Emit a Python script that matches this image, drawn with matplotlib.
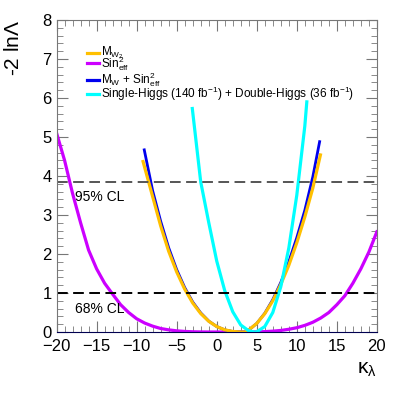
# Imports
import numpy as np
import matplotlib
matplotlib.use('Agg')
import matplotlib.pyplot as plt
from matplotlib.ticker import MultipleLocator

# Likelihood scans
kl_mw = [-9.2, -8.0, -7.0, -6.0, -5.0, -4.0, -3.0, -2.0, -1.0, 0.0, 1.0, 2.0, 3.0, 3.5,
         4.0, 5.0, 6.0, 7.0, 8.0, 9.0, 10.0, 11.0, 12.0, 12.95]
nll_mw = [4.37, 3.47, 2.72, 2.07, 1.54, 1.10, 0.745, 0.474, 0.276, 0.14, 0.056, 0.014, 0.001, 0.0,
          0.053, 0.22, 0.47, 0.80, 1.22, 1.71, 2.29, 2.95, 3.69, 4.54]

kl_sin = [-20, -19, -18, -17, -16, -15, -14, -13, -12, -11, -10, -9, -8, -7, -6, -5, -4, -3, -2, -1,
          0, 1, 2, 3, 4, 5, 6, 7, 8, 9, 10, 11, 12, 13, 14, 15, 16, 17, 18, 19, 20]
nll_sin = [5.1, 4.4, 3.55, 2.8, 2.1, 1.62, 1.25, 0.97, 0.70, 0.50, 0.34, 0.23, 0.15, 0.09, 0.055, 0.03,
           0.015, 0.006, 0.002, 0.0, 0.0, 0.0, 0.0, 0.0, 0.001, 0.004, 0.01, 0.022, 0.04, 0.07,
           0.11, 0.17, 0.25, 0.36, 0.50, 0.70, 0.93, 1.25, 1.62, 2.05, 2.57]

kl_comb = [-9.05, -8.0, -7.0, -6.0, -5.0, -4.0, -3.0, -2.0, -1.0, 0.0, 1.0, 2.0, 3.0, 3.5,
           4.0, 5.0, 6.0, 7.0, 8.0, 9.0, 10.0, 11.0, 12.0, 12.85]
nll_comb = [4.67, 3.62, 2.84, 2.16, 1.60, 1.14, 0.77, 0.49, 0.28, 0.14, 0.055, 0.013, 0.001, 0.0,
            0.05, 0.22, 0.48, 0.83, 1.27, 1.80, 2.42, 3.12, 3.98, 4.88]

kl_hh = [-3.05, -2.0, -1.0, 0.0, 1.0, 2.0, 3.0, 4.0, 4.7, 5.0, 6.0, 7.0, 8.0, 9.0, 10.0, 11.0, 11.25]
nll_hh = [5.73, 3.85, 2.81, 1.82, 1.06, 0.52, 0.18, 0.03, 0.0, 0.007, 0.14, 0.50, 1.16, 2.15, 3.51, 5.28, 5.9]

cl_levels = [3.85, 1.0]
cl_names = ['95% CL', '68% CL']

labels = [r'M$_{W_{2}}$', r'Sin$^{2}_{eff}$', r'M$_{W}$ + Sin$^{2}_{eff}$',
          r'Single-Higgs (140 fb$^{-1}$) + Double-Higgs (36 fb$^{-1}$)']
colours = ['#ffc000', '#cc00ff', '#0000ee', '#00ffff']


def plotGraphs():
  plt.rcParams['font.family'] = ['Liberation Sans', 'DejaVu Sans']
  plt.rcParams['mathtext.default'] = 'regular'

  fig = plt.figure(figsize=(4.07, 3.97), dpi=100)
  ax = fig.add_axes([0.139, 0.1637, 0.787, 0.786])

  ax.plot(kl_sin, nll_sin, color=colours[1], lw=2.3)
  ax.plot(kl_comb, nll_comb, color=colours[2], lw=2.0)
  ax.plot(kl_mw, nll_mw, color=colours[0], lw=2.3)
  ax.plot(kl_hh, nll_hh, color=colours[3], lw=2.3)

  # confidence levels
  ax.axhline(cl_levels[0], color='#555555', lw=1.4, dashes=(5.5, 2.8))
  ax.axhline(cl_levels[1], color='black', lw=1.4, dashes=(5.5, 2.8))
  ax.text(-17.7, cl_levels[0] - 0.38, cl_names[0], fontsize=10, va='center')
  ax.text(-17.7, cl_levels[1] - 0.42, cl_names[1], fontsize=10, va='center')

  # legend drawn by hand
  ys = [0.895, 0.861, 0.808, 0.763]
  for i in range(4):
    ax.plot([0.094, 0.133], [ys[i], ys[i]], transform=ax.transAxes, color=colours[i], lw=2.3)
    ax.text(0.14, ys[i], labels[i], transform=ax.transAxes, fontsize=8.5, va='center')

  ax.set_xlim([-20, 20])
  ax.set_ylim([0, 8])
  ax.xaxis.set_major_locator(MultipleLocator(5))
  ax.xaxis.set_minor_locator(MultipleLocator(1))
  ax.yaxis.set_major_locator(MultipleLocator(1))
  ax.yaxis.set_minor_locator(MultipleLocator(0.2))
  ax.tick_params(which='both', direction='in', top=True, right=True, colors='#777777',
                 labelcolor='black', labelsize=12)
  ax.tick_params(which='major', length=8)
  ax.tick_params(which='minor', length=4)
  ax.tick_params(axis='x', pad=5)
  for s in ['left', 'right', 'top']:
    ax.spines[s].set_color('#777777')
  ax.spines['bottom'].set_color('#000050')
  ax.set_xticks([-20, -15, -10, -5, 0, 5, 10, 15, 20])
  ax.set_xticklabels(['\u221220', '\u221215', '\u221210', '\u22125', '0', '5', '10', '15', '20'])

  ax.set_ylabel(r'-2 ln$\Lambda$', fontsize=15, loc='top', labelpad=14)
  ax.set_xlabel(r'$\kappa_{\lambda}$', fontsize=15, loc='right', labelpad=4)

  fig.savefig('out.png', dpi=100)

# =============
# MAIN FUNCTION
# =============
if __name__ == "__main__":
  plotGraphs()
